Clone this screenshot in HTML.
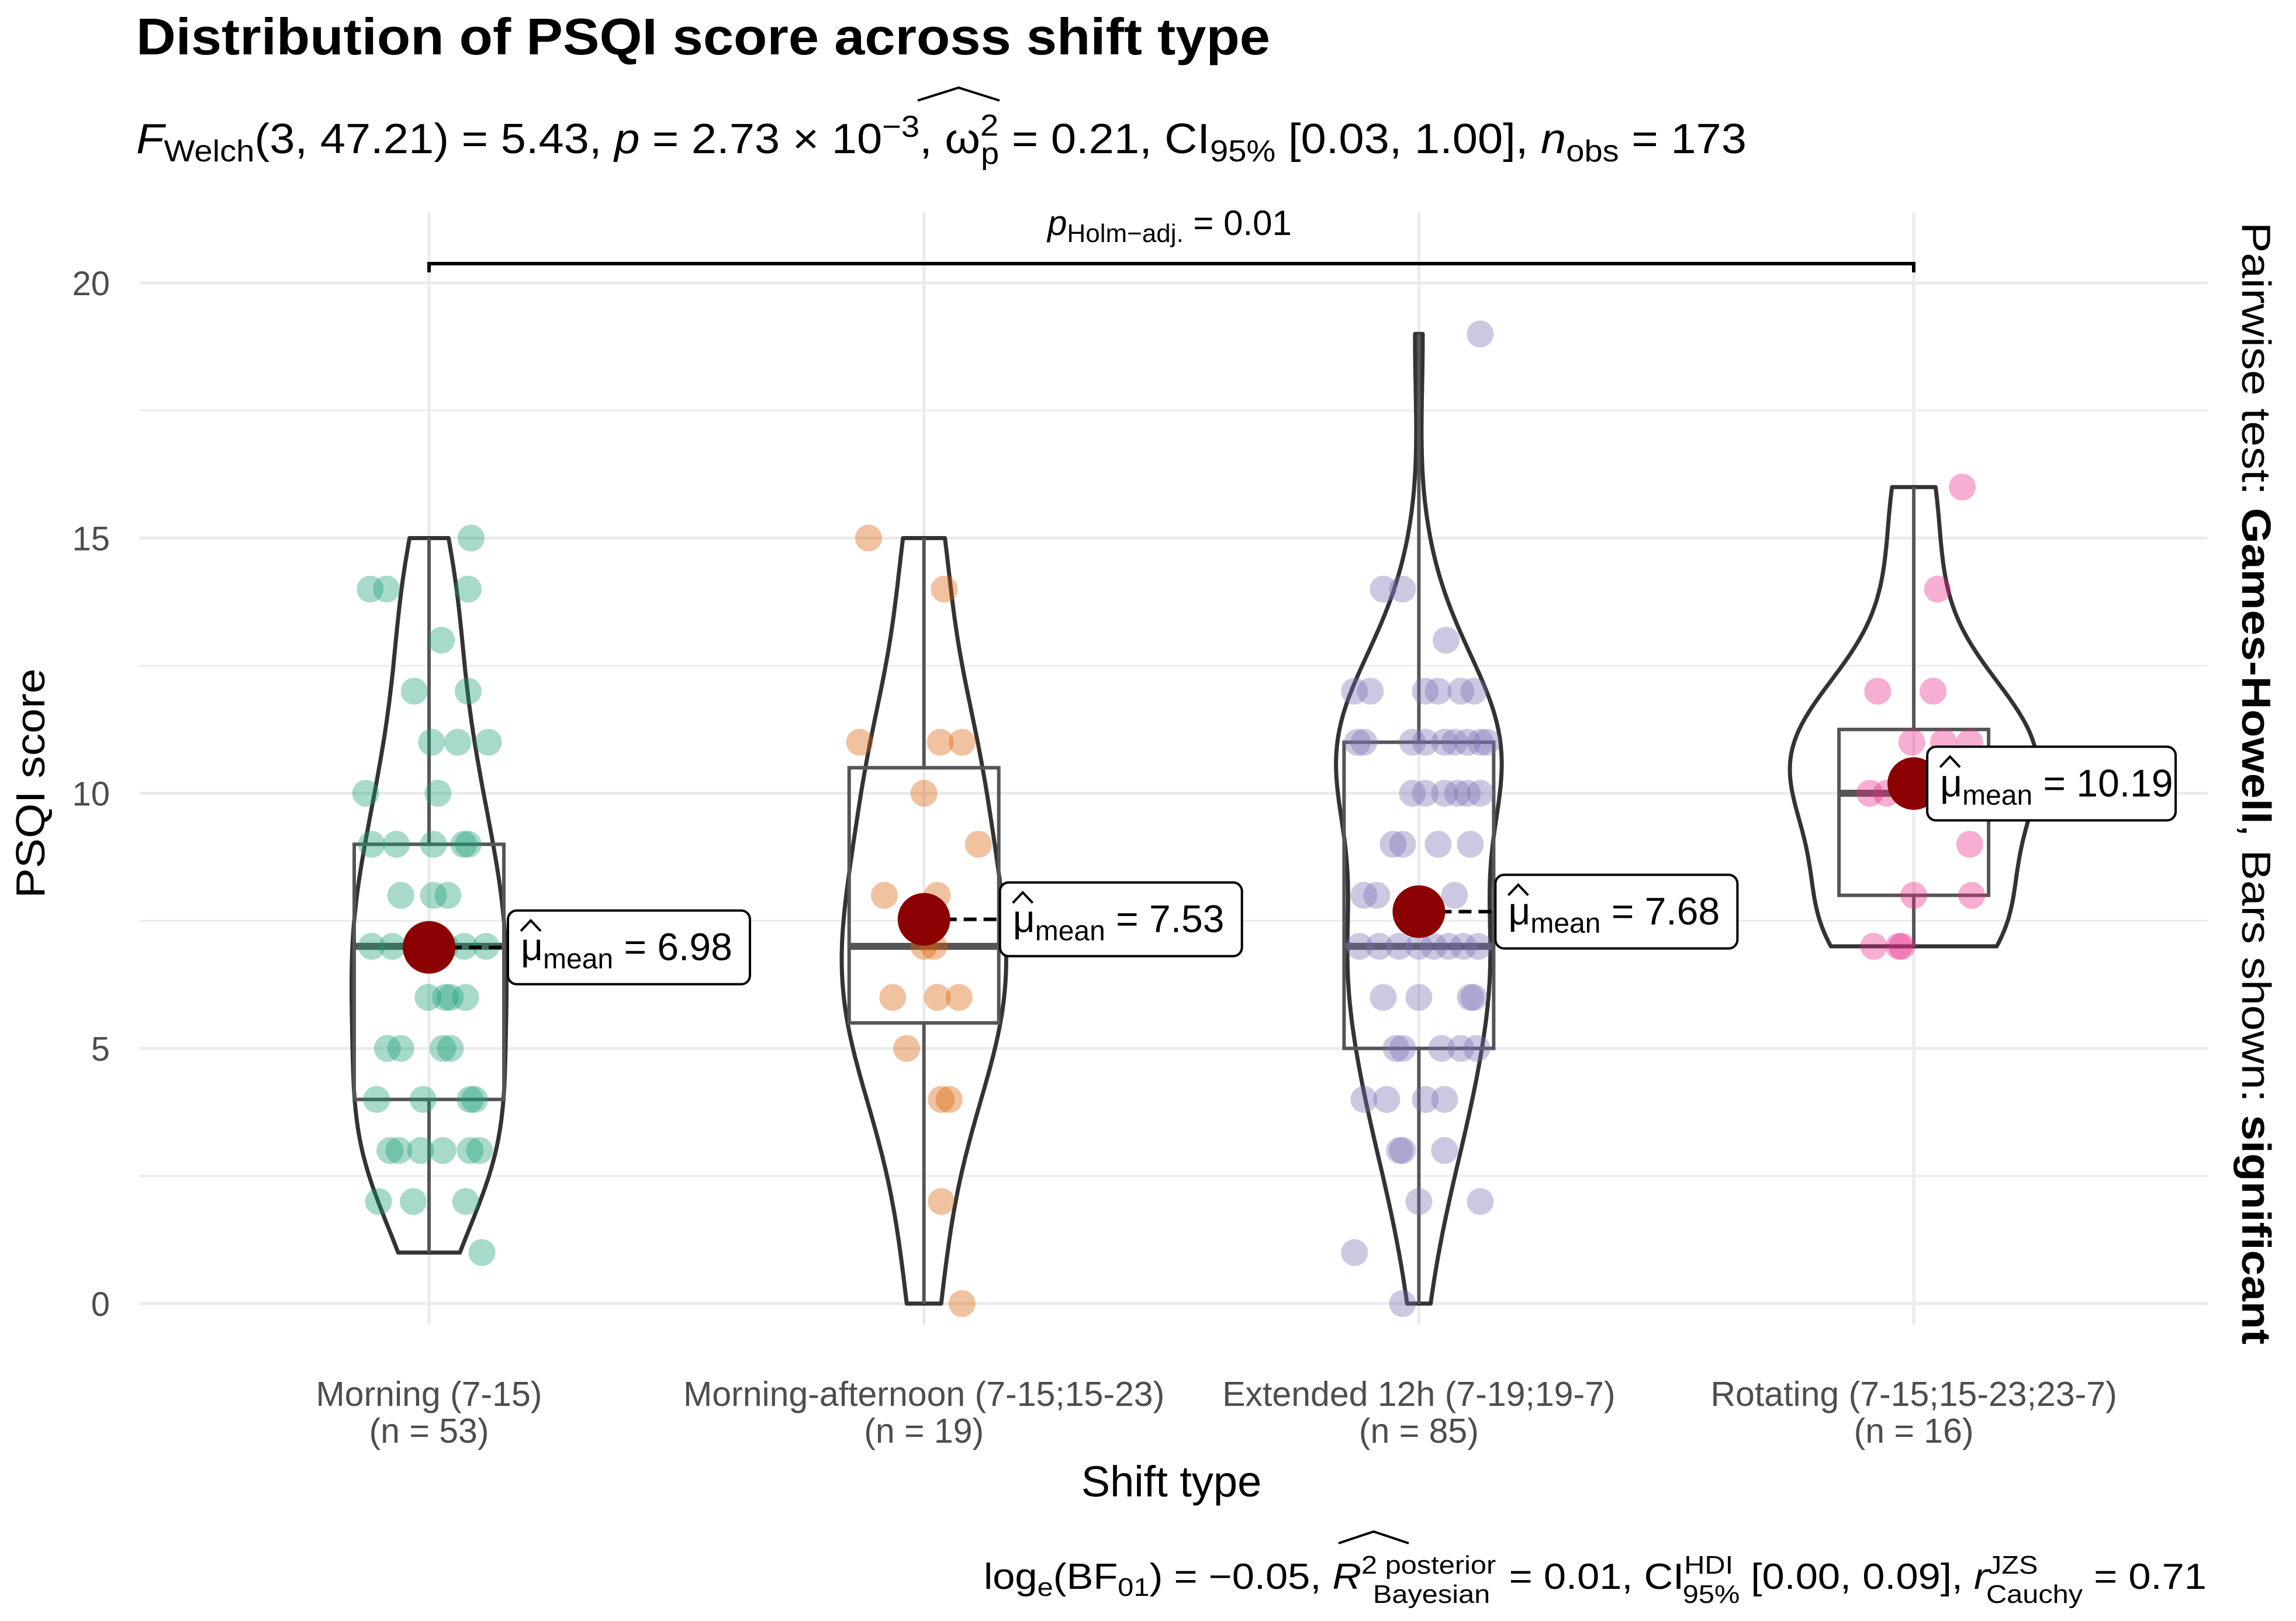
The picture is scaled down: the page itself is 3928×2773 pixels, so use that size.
<!DOCTYPE html>
<html><head><meta charset="utf-8"><style>
html,body{margin:0;padding:0;background:#fff}
svg{display:block;font-family:"Liberation Sans",sans-serif}
</style></head><body>
<svg id="chart" width="3928" height="2773" viewBox="0 0 3928 2773" xmlns="http://www.w3.org/2000/svg">
<rect width="3928" height="2773" fill="#fff"/>
<g id="grid"></g>
<text x="233" y="93" font-size="88" font-weight="bold" fill="#000" textLength="1940" lengthAdjust="spacingAndGlyphs">Distribution of PSQI score across shift type</text>
<text x="233" y="262" font-size="72" fill="#000" textLength="2755" lengthAdjust="spacingAndGlyphs"><tspan font-style="italic">F</tspan><tspan font-size="52" dy="14">Welch</tspan><tspan dy="-14">(3, 47.21) = 5.43, </tspan><tspan font-style="italic">p</tspan> = 2.73 × 10<tspan font-size="52" dy="-28">−3</tspan><tspan dy="28">, ω</tspan><tspan font-size="52" dy="-30">2</tspan><tspan font-size="52" dx="-28" dy="48">p</tspan><tspan dy="-18"> = 0.21, CI</tspan><tspan font-size="52" dy="14">95%</tspan><tspan dy="-14"> [0.03, 1.00], </tspan><tspan font-style="italic">n</tspan><tspan font-size="52" dy="14">obs</tspan><tspan dy="-14"> = 173</tspan></text>
<path d="M1570 172 L1640 150 L1710 172" fill="none" stroke="#000" stroke-width="4"/>
<g id="plot"></g>
<g>
<path d="M734 466 L734 451 L3274 451 L3274 466" fill="none" stroke="#000" stroke-width="6"/>
<text x="2001" y="402" font-size="60" text-anchor="middle"><tspan font-style="italic">p</tspan><tspan font-size="44" dy="12">Holm−adj.</tspan><tspan dy="-12"> = 0.01</tspan></text>
</g>
<text transform="translate(76,1340) rotate(-90)" font-size="70" text-anchor="middle" textLength="393" lengthAdjust="spacingAndGlyphs">PSQI score</text>
<text x="2004" y="2560" font-size="74" text-anchor="middle">Shift type</text>
<text transform="translate(3836,1340) rotate(90)" font-size="70" text-anchor="middle" textLength="1920" lengthAdjust="spacingAndGlyphs">Pairwise test: <tspan font-weight="bold">Games-Howell</tspan>, Bars shown: <tspan font-weight="bold">significant</tspan></text>
<text x="1683" y="2718" font-size="62" textLength="2092" lengthAdjust="spacingAndGlyphs">log<tspan font-size="44" dy="12">e</tspan><tspan dy="-12">(BF</tspan><tspan font-size="44" dy="12">01</tspan><tspan dy="-12">) = −0.05, </tspan><tspan font-style="italic">R</tspan><tspan font-size="44" dy="-26">2 </tspan><tspan font-size="44">posterior</tspan><tspan font-size="44" dx="-190" dy="50">Bayesian</tspan><tspan dx="12" dy="-24"> = 0.01, CI</tspan><tspan font-size="44" dy="-26">HDI</tspan><tspan font-size="44" dx="-78" dy="50">95%</tspan><tspan dy="-24"> [0.00, 0.09], </tspan><tspan font-style="italic">r</tspan><tspan font-size="44" dy="-26">JZS</tspan><tspan font-size="44" dx="-80" dy="50">Cauchy</tspan><tspan dy="-24"> = 0.71</tspan></text>
<path d="M2290 2640 L2350 2620 L2410 2640" fill="none" stroke="#000" stroke-width="4"/>
</svg>
<script>
const categories = ["Morning (7-15)","Morning-afternoon (7-15;15-23)","Extended 12h (7-19;19-7)","Rotating (7-15;15-23;23-7)"];
const groupN = [53,19,85,16];
const means = [6.98,7.53,7.68,10.19];
const meanLabels = ["6.98","7.53","7.68","10.19"];
const boxQ1 = [4,5.5,5,8];
const boxMedian = [7,7,7,10];
const boxQ3 = [9,10.5,11,11.25];
const whiskLo = [1,0,0,7];
const whiskHi = [15,15,19,16];
const yTicks = [0,5,10,15,20];
const colors = ["#1B9E77","#D95F02","#7570B3","#E7298A"];
const valsMorning = [15,14,14,14,13,12,12,11,11,11,10,10,9,9,9,9,9,8,8,8,7,7,7,7,7,7,6,6,6,6,5,5,5,5,4,4,4,4,3,3,3,3,3,3,2,2,2,1];
const jitMorning = [.085,-.119,-.086,.079,.025,-.030,.079,.005,.058,.120,-.128,.018,-.116,-.066,.009,.070,.079,-.057,.009,.038,-.116,-.074,.033,.115,-.024,.071,-.002,.033,.043,.074,-.084,-.057,.028,.043,-.106,-.012,.083,.092,-.079,-.061,-.017,.028,.083,.102,-.102,-.032,.074,.107];
const valsAfternoon = [15,14,11,11,11,10,9,8,8,7,7,6,6,6,5,4,4,2,0];
const jitAfternoon = [-.112,.041,-.130,.033,.077,0,.110,-.080,.027,0,.02,-.063,.027,.071,-.035,.035,.051,.035,.077];
const valsExtended = [19,14,14,13,12,12,12,12,12,12,11,11,11,11,11,11,11,11,11,10,10,10,10,10,10,9,9,9,9,8,8,8,7,7,7,7,7,7,7,7,6,6,6,6,5,5,5,5,5,4,4,4,4,3,3,3,2,2,1,0];
const jitExtended = [.124,-.072,-.033,.055,-.130,-.098,.013,.039,.085,.111,-.124,-.111,-.013,.013,.052,.072,.098,.124,.137,-.013,.013,.052,.078,.098,.124,-.052,-.033,.039,.104,-.111,-.085,.072,-.12,-.08,-.04,0,.03,.06,.09,.12,-.072,0,.104,.111,-.046,-.033,.046,.085,.117,-.111,-.065,.013,.052,-.039,-.033,.052,0,.124,-.130,-.033];
const valsRotating = [16,14,12,12,11,11,11,10,10,9,8,8,7,7,7,10];
const jitRotating = [.098,.048,-.073,.039,-.004,.113,.06,-.089,-.055,.113,0,.117,-.081,-.024,-.03,.03];
const allVals = [valsMorning,valsAfternoon,valsExtended,valsRotating];
const allJit = [jitMorning,jitAfternoon,jitExtended,jitRotating];

const NS="http://www.w3.org/2000/svg";
const X0=734, XSTEP=846.7, Y0=2230, YU=87.3;
const xs=i=>X0+i*XSTEP;
const ys=v=>Y0-v*YU;
function mk(tag,attrs,parent){const e=document.createElementNS(NS,tag);for(const k in attrs)e.setAttribute(k,attrs[k]);parent.appendChild(e);return e;}
const grid=document.getElementById('grid'), plot=document.getElementById('plot');
for(let v=-2.5; v<=22.5; v+=2.5){
  if(ys(v)<360||ys(v)>2300) continue;
  const major = v%5===0;
  const l=mk('line',{x1:238,x2:3777,y1:ys(v),y2:ys(v),stroke:'#EBEBEB','stroke-width':major?5:3},grid);
  
  
}
yTicks.forEach(t=>{
  const tx=mk('text',{x:188,y:ys(t)+21,'font-size':58,fill:'#4D4D4D','text-anchor':'end'},grid);
  tx.textContent=t;
  
  
});
categories.forEach((c,i)=>{
  const l=mk('line',{x1:xs(i),x2:xs(i),y1:363,y2:2267,stroke:'#EBEBEB','stroke-width':5},grid);
  
  
  const t=mk('text',{x:xs(i),y:2405,'font-size':59,fill:'#4D4D4D','text-anchor':'middle'},grid);
  t.textContent=c;
  
  
  const t2=mk('text',{x:xs(i),y:2468,'font-size':59,fill:'#4D4D4D','text-anchor':'middle'},grid);
  t2.textContent='(n = '+groupN[i]+')';
  
  
});
function bw(a){const n=a.length,m=a.reduce((s,x)=>s+x,0)/n;const sd=Math.sqrt(a.reduce((s,x)=>s+(x-m)*(x-m),0)/(n-1));const b=[...a].sort((p,q)=>p-q);const q=p=>{const h=(n-1)*p,lo=Math.floor(h);return b[lo]+(h-lo)*((b[lo+1]??b[lo])-b[lo]);};const iqr=(q(.75)-q(.25))/1.34;return 0.9*Math.min(sd,iqr>0?iqr:sd)*Math.pow(n,-0.2);}
const dens=allVals.map(a=>{const h=bw(a);const lo=Math.min(...a),hi=Math.max(...a);const pts=[];for(let k=0;k<=120;k++){const v=lo+(hi-lo)*k/120;let d=0;a.forEach(x=>{const z=(v-x)/h;d+=Math.exp(-z*z/2);});pts.push([v,d/(a.length*h*Math.sqrt(2*Math.PI))]);}return pts;});
const dmax=Math.max(...dens.map(p=>Math.max(...p.map(q=>q[1]))));
const HW=212;
dens.forEach((pts,i)=>{
  const c=xs(i);
  let d='';
  pts.forEach((p,k)=>{d+=(k?'L':'M')+(c+p[1]/dmax*HW).toFixed(1)+' '+ys(p[0]).toFixed(1);});
  for(let k=pts.length-1;k>=0;k--){const p=pts[k];d+='L'+(c-p[1]/dmax*HW).toFixed(1)+' '+ys(p[0]).toFixed(1);}
  d+='Z';
  const v=mk('path',{d:d,fill:'none',stroke:'#333','stroke-width':7,'stroke-linejoin':'round'},plot);
  
  
});
categories.forEach((c,i)=>{
  const cx=xs(i),bw2=128;
  const g=mk('g',{},plot);
  
  
  mk('line',{x1:cx,x2:cx,y1:ys(whiskHi[i]),y2:ys(boxQ3[i]),stroke:'#555','stroke-width':6},g);
  mk('line',{x1:cx,x2:cx,y1:ys(boxQ1[i]),y2:ys(whiskLo[i]),stroke:'#555','stroke-width':6},g);
  mk('rect',{x:cx-bw2,y:ys(boxQ3[i]),width:2*bw2,height:ys(boxQ1[i])-ys(boxQ3[i]),fill:'none',stroke:'#555','stroke-width':6},g);
  mk('line',{x1:cx-bw2,x2:cx+bw2,y1:ys(boxMedian[i]),y2:ys(boxMedian[i]),stroke:'#555','stroke-width':12},g);
});
allVals.forEach((a,i)=>{
  a.forEach((v,k)=>{
    const p=mk('circle',{cx:xs(i+allJit[i][k]),cy:ys(v),r:23,fill:colors[i],'fill-opacity':0.38},plot);
    
    
  });
});
const labelDx=[135,130,131,23];
means.forEach((m,i)=>{
  const cx=xs(i),cy=ys(m);
  const bx=cx+labelDx[i];
  const ln=mk('line',{x1:cx,x2:bx,y1:cy,y2:cy,stroke:'#000','stroke-width':6,'stroke-dasharray':'22 12'},plot);
  
  
  const dot=mk('circle',{cx:cx,cy:cy,r:45,fill:'#8B0000'},plot);
  
  
  const g=mk('g',{},plot);
  
  
  const w=meanLabels[i].length>4?425:414;
  mk('rect',{x:bx,y:cy-63,width:w,height:126,rx:15,fill:'#fff',stroke:'#000','stroke-width':4},g);
  const t=mk('text',{x:bx+22,y:cy+22,'font-size':66},g);
  t.innerHTML='μ<tspan font-size="48" dy="14">mean</tspan><tspan dy="-14"> = '+meanLabels[i]+'</tspan>';
  mk('path',{d:`M${bx+22} ${cy-28} L${bx+39} ${cy-46} L${bx+56} ${cy-28}`,fill:'none',stroke:'#000','stroke-width':4},g);
});
</script>
</body></html>
